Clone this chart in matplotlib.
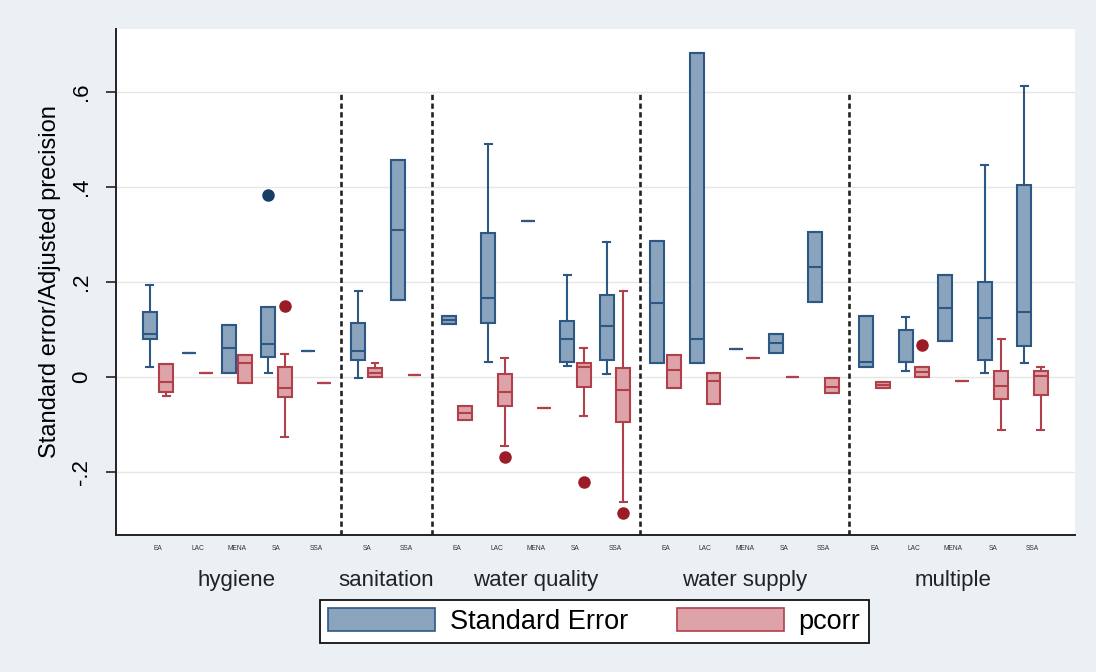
import matplotlib
matplotlib.use("Agg")
import matplotlib.pyplot as plt
from matplotlib.patches import Patch
from matplotlib.transforms import blended_transform_factory

plt.rcParams['font.family'] = ['Liberation Sans', 'DejaVu Sans']

# ---------------- data ----------------
groups = ["hygiene", "sanitation", "water quality", "water supply", "multiple"]
group_regions = [
    ["EA", "LAC", "MENA", "SA", "SSA"],
    ["SA", "SSA"],
    ["EA", "LAC", "MENA", "SA", "SSA"],
    ["EA", "LAC", "MENA", "SA", "SSA"],
    ["EA", "LAC", "MENA", "SA", "SSA"],
]

# Standard Error (22 categories, in group order)
se_whislo = [0.020, 0.050, 0.008, 0.009, 0.055,  -0.002, 0.161,
             0.111, 0.032, 0.328, 0.023, 0.005,
             0.028, 0.028, 0.058, 0.051, 0.158,
             0.020, 0.013, 0.075, 0.009, 0.030]
se_q1 = [0.079, 0.050, 0.008, 0.041, 0.055,  0.035, 0.161,
         0.111, 0.114, 0.328, 0.032, 0.035,
         0.028, 0.028, 0.058, 0.051, 0.158,
         0.020, 0.031, 0.075, 0.035, 0.065]
se_med = [0.090, 0.050, 0.061, 0.068, 0.055,  0.054, 0.310,
          0.119, 0.165, 0.328, 0.079, 0.107,
          0.155, 0.079, 0.058, 0.072, 0.232,
          0.032, 0.031, 0.144, 0.123, 0.137]
se_q3 = [0.137, 0.050, 0.110, 0.147, 0.055,  0.114, 0.456,
         0.128, 0.302, 0.328, 0.117, 0.173,
         0.286, 0.682, 0.058, 0.091, 0.305,
         0.128, 0.098, 0.214, 0.199, 0.404]
se_whishi = [0.193, 0.050, 0.110, 0.147, 0.055,  0.180, 0.456,
             0.128, 0.490, 0.328, 0.214, 0.284,
             0.286, 0.682, 0.058, 0.091, 0.305,
             0.128, 0.125, 0.214, 0.446, 0.613]
se_outliers = [[], [], [], [0.383], [],  [], [],
               [], [], [], [], [],
               [], [], [], [], [],
               [], [], [], [], []]

# pcorr
pc_whislo = [-0.041, 0.009, -0.013, -0.126, -0.013,  -0.001, 0.004,
             -0.091, -0.145, -0.065, -0.083, -0.263,
             -0.024, -0.057, 0.039, 0.000, -0.035,
             -0.024, 0.000, -0.008, -0.112, -0.112]
pc_q1 = [-0.032, 0.009, -0.013, -0.042, -0.013,  -0.001, 0.004,
         -0.091, -0.061, -0.065, -0.022, -0.095,
         -0.024, -0.057, 0.039, 0.000, -0.035,
         -0.024, 0.000, -0.008, -0.047, -0.039]
pc_med = [-0.012, 0.009, 0.030, -0.023, -0.013,  0.009, 0.004,
          -0.076, -0.032, -0.065, 0.021, -0.027,
          0.014, -0.008, 0.039, 0.000, -0.021,
          -0.018, 0.010, -0.008, -0.019, 0.001]
pc_q3 = [0.026, 0.009, 0.046, 0.020, -0.013,  0.018, 0.004,
         -0.061, 0.005, -0.065, 0.028, 0.018,
         0.046, 0.009, 0.039, 0.000, -0.003,
         -0.011, 0.021, -0.008, 0.012, 0.013]
pc_whishi = [0.026, 0.009, 0.046, 0.049, -0.013,  0.028, 0.004,
             -0.061, 0.039, -0.065, 0.061, 0.180,
             0.046, 0.009, 0.039, 0.000, -0.003,
             -0.011, 0.021, -0.008, 0.079, 0.021]
pc_outliers = [[], [], [], [0.150], [],  [], [],
               [], [-0.168], [], [-0.221], [-0.286],
               [], [], [], [], [],
               [], [0.067], [], [], []]

series_labels = ["Standard Error", "pcorr"]
yticks = [-0.2, 0.0, 0.2, 0.4, 0.6]
ytick_labels = ["-.2", "0", ".2", ".4", ".6"]

# ---------------- style ----------------
BG = "#eaf0f4"
SE_FACE, SE_EDGE, SE_OUT = "#8ba4be", "#2d5883", "#173f66"
PC_FACE, PC_EDGE, PC_OUT = "#dda3a8", "#b0404a", "#9b1c25"

GAP = 0.285
OFF = 0.21
WIDTH = 0.35

positions, tick_names, group_centers, dividers = [], [], [], []
x = 0.0
for gi, regs in enumerate(group_regions):
    start = x
    for r in regs:
        positions.append(x)
        tick_names.append(r)
        x += 1
    group_centers.append((start + x - 1) / 2)
    if gi < len(group_regions) - 1:
        dividers.append(x - 0.5 + GAP / 2)
        x += GAP


def make_stats(lo, q1, med, q3, hi, out):
    return [dict(whislo=a, q1=b, med=c, q3=d, whishi=e, fliers=f)
            for a, b, c, d, e, f in zip(lo, q1, med, q3, hi, out)]


fig = plt.figure(figsize=(10.96, 6.72), dpi=100, facecolor=BG)
ax = fig.add_axes([0.1058, 0.2039, 0.875, 0.7529])
ax.set_facecolor("white")

YMIN, YMAX = -0.333, 0.732
ax.set_ylim(YMIN, YMAX)
ax.set_xlim(positions[0] - 1.063, positions[-1] + 1.076)

for stats, offs, face, edge, outc in [
    (make_stats(se_whislo, se_q1, se_med, se_q3, se_whishi, se_outliers), -OFF, SE_FACE, SE_EDGE, SE_OUT),
    (make_stats(pc_whislo, pc_q1, pc_med, pc_q3, pc_whishi, pc_outliers), OFF, PC_FACE, PC_EDGE, PC_OUT),
]:
    ax.bxp(stats, positions=[p + offs for p in positions], widths=WIDTH,
           patch_artist=True, showfliers=True, manage_ticks=False,
           capwidths=WIDTH * 0.5,
           boxprops=dict(facecolor=face, edgecolor=edge, linewidth=1.5),
           medianprops=dict(color=edge, linewidth=1.5),
           whiskerprops=dict(color=edge, linewidth=1.5),
           capprops=dict(color=edge, linewidth=1.5),
           flierprops=dict(marker='o', markerfacecolor=outc, markeredgecolor=outc,
                           markersize=8))

ax.vlines(dividers, YMIN, 0.6, colors="#222222", linestyles=(0, (2.0, 1.3)),
          linewidth=1.9, zorder=1)

# y axis
ax.set_yticks(yticks)
ax.set_yticklabels(ytick_labels, rotation=90, va="center", fontsize=16)
ax.tick_params(axis="y", length=7, width=1.2, pad=10.5, color="#222222")
ax.yaxis.grid(True, color="#e6e6e6", linewidth=1.0)
ax.set_axisbelow(True)
ax.set_ylabel("Standard error/Adjusted precision", fontsize=17, labelpad=7)

# x axis
ax.set_xticks([])
trans = blended_transform_factory(ax.transData, ax.transAxes)
for p, name in zip(positions, tick_names):
    ax.text(p, -0.026, name, transform=trans, ha="center", va="center",
            fontsize=4.8, color="#333333")
for c, g in zip(group_centers, groups):
    ax.text(c, -0.089, g, transform=trans, ha="center", va="center",
            fontsize=16, color="#222222")

for s in ["top", "right"]:
    ax.spines[s].set_visible(False)
for s in ["left", "bottom"]:
    ax.spines[s].set_linewidth(1.4)
    ax.spines[s].set_color("#222222")

handles = [Patch(facecolor=SE_FACE, edgecolor=SE_EDGE, linewidth=1.2),
           Patch(facecolor=PC_FACE, edgecolor=PC_EDGE, linewidth=1.2)]
leg = fig.legend(handles, series_labels, loc="center", bbox_to_anchor=(0.5424, 0.0751),
                 ncol=2, fontsize=19.5, frameon=True, fancybox=False, framealpha=1,
                 edgecolor="#111111", handlelength=3.95, handleheight=0.93,
                 columnspacing=1.78, handletextpad=0.55, borderpad=0.3,
                 borderaxespad=0)
leg.get_frame().set_linewidth(1.3)

fig.savefig("out.png", dpi=100, facecolor=BG)
